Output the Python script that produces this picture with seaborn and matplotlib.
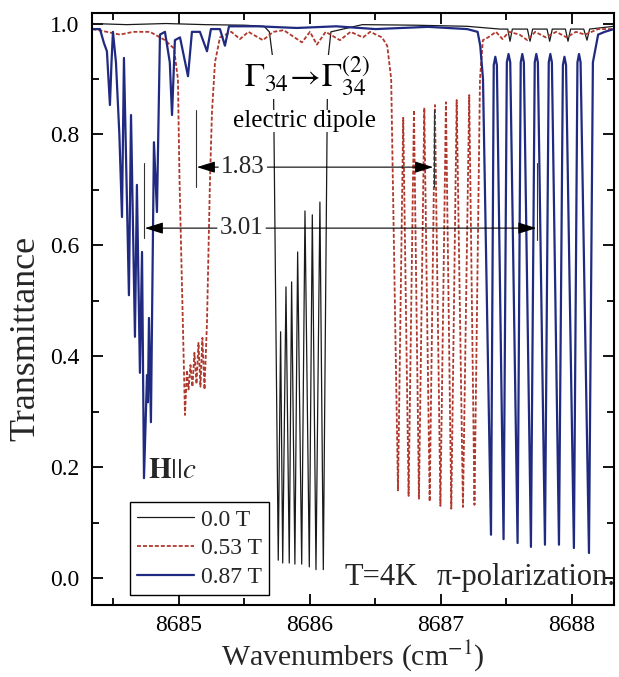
import numpy as np
import pandas as pd
import matplotlib
matplotlib.use("Agg")
import matplotlib.pyplot as plt
import seaborn as sns

# ---------------- data ----------------
x_ticks = [8685, 8686, 8687, 8688]
x_tick_labels = ["8685", "8686", "8687", "8688"]
y_ticks = [0.0, 0.2, 0.4, 0.6, 0.8, 1.0]
y_tick_labels = ["0.0", "0.2", "0.4", "0.6", "0.8", "1.0"]

series_labels = ["0.0 T", "0.53 T", "0.87 T"]

# 0.0 T (black)
wn_0T = [8684.34, 8684.6, 8684.9, 8685.2, 8685.5, 8685.65, 8685.69, 8685.72,
         8685.758, 8685.776, 8685.792, 8685.817, 8685.842, 8685.860, 8685.885,
         8685.906, 8685.937, 8685.962, 8685.995, 8686.018, 8686.046, 8686.076,
         8686.102, 8686.135, 8686.16, 8686.4, 8686.8, 8687.2, 8687.45,
         8687.51, 8687.527, 8687.545, 8687.66, 8687.68, 8687.70,
         8687.81, 8687.83, 8687.85, 8687.95, 8687.97, 8687.99,
         8688.09, 8688.115, 8688.135, 8688.32]
tr_0T = [1.0, 0.998, 1.0, 0.998, 0.997, 0.995, 0.985, 0.93,
         0.032, 0.444, 0.027, 0.525, 0.027, 0.534, 0.025,
         0.588, 0.025, 0.662, 0.02, 0.655, 0.015, 0.678,
         0.015, 0.93, 0.985, 0.998, 0.997, 0.995, 0.99,
         0.99, 0.968, 0.99, 0.99, 0.968, 0.99,
         0.99, 0.968, 0.99, 0.99, 0.968, 0.99,
         0.99, 0.97, 0.99, 0.995]

# 0.53 T (red dashed)
wn_053T = [8684.34, 8684.45, 8684.55, 8684.65, 8684.779, 8684.893, 8684.962,
           8684.992, 8685.004, 8685.046, 8685.061, 8685.073, 8685.088, 8685.103,
           8685.118, 8685.134, 8685.149, 8685.164, 8685.179, 8685.195, 8685.214,
           8685.237, 8685.252, 8685.275, 8685.313, 8685.40, 8685.466, 8685.53,
           8685.641, 8685.72, 8685.80, 8685.939, 8686.00, 8686.053, 8686.12,
           8686.229, 8686.31, 8686.405, 8686.46, 8686.55, 8686.59, 8686.62,
           8686.672, 8686.712, 8686.753, 8686.794, 8686.832, 8686.873, 8686.914,
           8686.954, 8686.996, 8687.038, 8687.079, 8687.120, 8687.168, 8687.216,
           8687.256, 8687.298, 8687.32, 8687.36, 8687.42, 8687.47, 8687.52,
           8687.60, 8687.66, 8687.72, 8687.80, 8687.88, 8687.96, 8688.03,
           8688.10, 8688.20, 8688.32]
tr_053T = [0.99, 0.985, 0.98, 0.985, 0.985, 0.97, 0.955,
           0.90, 0.72, 0.294, 0.375, 0.34, 0.384, 0.345,
           0.406, 0.35, 0.424, 0.345, 0.433, 0.34, 0.462,
           0.72, 0.84, 0.93, 0.975, 0.985, 0.972, 0.985,
           0.97, 0.985, 0.988, 0.966, 0.985, 0.962, 0.985,
           0.97, 0.985, 0.975, 0.985, 0.975, 0.96, 0.90,
           0.158, 0.830, 0.148, 0.844, 0.143, 0.848, 0.138,
           0.853, 0.130, 0.858, 0.125, 0.862, 0.128, 0.871,
           0.132, 0.90, 0.97, 0.975, 0.985, 0.972, 0.985,
           0.98, 0.97, 0.985, 0.975, 0.985, 0.975, 0.985,
           0.98, 0.99, 0.99]

# 0.87 T (blue)
wn_087T = [8684.336, 8684.397, 8684.427, 8684.45, 8684.473, 8684.485, 8684.496,
           8684.519, 8684.545, 8684.565, 8684.580, 8684.618, 8684.634, 8684.664,
           8684.679, 8684.702, 8684.718, 8684.733, 8684.756, 8684.763, 8684.771,
           8684.786, 8684.809, 8684.832, 8684.855, 8684.893, 8684.93, 8684.947,
           8684.969, 8685.008, 8685.069, 8685.099, 8685.160, 8685.214, 8685.244,
           8685.313, 8685.351, 8685.382, 8685.6, 8685.9, 8686.2, 8686.5, 8686.9,
           8687.2, 8687.28, 8687.30, 8687.321,
           8687.382, 8687.403, 8687.415, 8687.427,
           8687.478, 8687.503, 8687.516, 8687.529,
           8687.585, 8687.609, 8687.621, 8687.633,
           8687.687, 8687.716, 8687.728, 8687.740,
           8687.794, 8687.823, 8687.835, 8687.847,
           8687.901, 8687.931, 8687.943, 8687.955,
           8688.015, 8688.042, 8688.054, 8688.066,
           8688.13, 8688.16, 8688.20, 8688.25, 8688.32]
tr_087T = [0.99, 0.99, 0.965, 0.95, 0.853, 0.93, 0.985,
           0.93, 0.80, 0.651, 0.938, 0.51, 0.835, 0.435,
           0.709, 0.37, 0.588, 0.18, 0.366, 0.317, 0.469,
           0.281, 0.786, 0.66, 0.98, 0.985, 0.93, 0.835,
           0.97, 0.975, 0.905, 0.985, 0.985, 0.95, 0.99,
           0.99, 0.96, 0.995, 0.995, 0.992, 0.995, 0.99, 0.994,
           0.99, 0.985, 0.96, 0.90,
           0.078, 0.925, 0.94, 0.925,
           0.07, 0.93, 0.945, 0.93,
           0.063, 0.93, 0.945, 0.93,
           0.056, 0.93, 0.945, 0.93,
           0.06, 0.93, 0.945, 0.93,
           0.06, 0.925, 0.94, 0.925,
           0.054, 0.93, 0.945, 0.93,
           0.045, 0.93, 0.98, 0.985, 0.99]

# annotation values
split_labels = ["1.83", "3.01"]

# ---------------- style ----------------
sns.set_theme(style="ticks")
plt.rcParams["font.family"] = ["Liberation Serif", "DejaVu Serif"]
plt.rcParams["mathtext.fontset"] = "stix"

fig = plt.figure(figsize=(6.19, 6.77), dpi=100)
ax = fig.add_axes([0.1486, 0.1064, 0.8433, 0.8744])

specs = [
    (wn_0T, tr_0T, series_labels[0], "#1a1a1a", 0.9),
    (wn_053T, tr_053T, series_labels[1], "#b0392e", 1.3),
    (wn_087T, tr_087T, series_labels[2], "#1f2a80", 1.6),
]
for xs, ys, lab, col, lw in specs:
    df = pd.DataFrame({"wn": xs, "tr": ys})
    sns.lineplot(data=df, x="wn", y="tr", sort=False, estimator=None,
                 color=col, lw=lw, label=lab, ax=ax)

ax.lines[1].set_linestyle((0, (2.2, 1.1)))

ax.set_xlim(8684.336, 8688.321)
ax.set_ylim(-0.0487, 1.019)

ax.set_xticks(x_ticks)
ax.set_xticklabels(x_tick_labels)
ax.set_xticks([8684.5, 8685.5, 8686.5, 8687.5], minor=True)
ax.set_yticks(y_ticks)
ax.set_yticklabels(y_tick_labels)
ax.set_yticks([0.1, 0.3, 0.5, 0.7, 0.9], minor=True)

ax.tick_params(which="both", direction="in", top=True, right=True,
               labelsize=17, width=1.3, colors="black")
ax.tick_params(axis="x", which="both", pad=7)
ax.tick_params(axis="y", which="both", pad=9)
ax.tick_params(which="major", length=8)
ax.tick_params(which="minor", length=5)
for s in ax.spines.values():
    s.set_linewidth(1.5)
    s.set_color("black")

ax.set_xlabel("Wavenumbers (cm$^{-1}$)", fontsize=21.5, labelpad=2)
ax.set_ylabel("Transmittance", fontsize=26)
ax.yaxis.set_label_coords(-0.095, 0.45)

leg = ax.legend(loc="lower left", bbox_to_anchor=(0.073, 0.017),
                frameon=True, fancybox=False, edgecolor="black",
                framealpha=1, fontsize=17, handlelength=2.4,
                borderpad=0.3, labelspacing=0.3, handletextpad=0.3,
                borderaxespad=0)
leg.get_frame().set_linewidth(1.0)

# ---------------- annotations ----------------
ax.text(8685.50, 0.884, r"$\Gamma_{34}\!\rightarrow\!\Gamma_{34}^{(2)}$",
        fontsize=24, ha="left", va="baseline", color="black",
        bbox=dict(facecolor="white", edgecolor="none", pad=0))
ax.text(8685.41, 0.813, "electric dipole", fontsize=18, ha="left",
        va="baseline", color="black",
        bbox=dict(facecolor="white", edgecolor="none", pad=0))

arrow_kw = dict(arrowstyle="-|>,head_length=0.7,head_width=0.22",
                color="black", lw=0.8, mutation_scale=16, shrinkA=0, shrinkB=0)
# 1.83 splitting
y183 = 0.741
ax.text(8685.489, y183, split_labels[0], fontsize=18, ha="center", va="center")
ax.annotate("", xy=(8685.137, y183), xytext=(8685.30, y183), arrowprops=arrow_kw)
ax.annotate("", xy=(8686.94, y183), xytext=(8685.675, y183), arrowprops=arrow_kw)
ax.plot([8685.13, 8685.13], [0.705, 0.844], color="#333333", lw=0.8)
ax.plot([8686.945, 8686.945], [0.705, 0.844], color="#333333", lw=0.8)
# 3.01 splitting
y301 = 0.631
ax.text(8685.48, y301, split_labels[1], fontsize=18, ha="center", va="center")
ax.annotate("", xy=(8684.74, y301), xytext=(8685.29, y301), arrowprops=arrow_kw)
ax.annotate("", xy=(8687.728, y301), xytext=(8685.665, y301), arrowprops=arrow_kw)
ax.plot([8684.733, 8684.733], [0.613, 0.748], color="#333333", lw=0.8)
ax.plot([8687.733, 8687.733], [0.61, 0.748], color="#333333", lw=0.8)

ax.text(8684.763, 0.18, r"$\mathbf{H}||c$", fontsize=21, ha="left", va="baseline")
ax.text(8686.267, -0.013, "T=4K", fontsize=22, ha="left", va="baseline")
ax.text(8686.97, -0.013, "\u03c0-polarization.", fontsize=22, ha="left", va="baseline")

fig.savefig("out.png", dpi=100)
